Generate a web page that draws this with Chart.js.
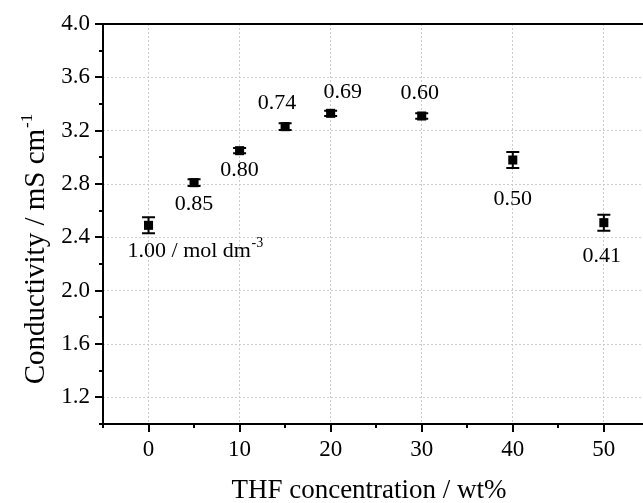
<!DOCTYPE html>
<html><head><meta charset="utf-8">
<script src="https://cdn.jsdelivr.net/npm/chart.js@4.4.0/dist/chart.umd.min.js"></script>
<style>html,body{margin:0;padding:0;background:#fff;overflow:hidden}#c{display:block;width:643px;height:503px}</style>
</head><body><canvas id="c" width="643" height="503"></canvas>
<script>
// ---- data ----
const thfConcentration = [0, 5, 10, 15, 20, 30, 40, 50];
const conductivity = [2.49, 2.81, 3.05, 3.23, 3.33, 3.31, 2.98, 2.51];
const conductivityError = [0.06, 0.025, 0.02, 0.025, 0.02, 0.02, 0.06, 0.06];
const saltConcentration = ['1.00', '0.85', '0.80', '0.74', '0.69', '0.60', '0.50', '0.41'];
const firstLabelUnit = ' / mol dm';
const firstLabelUnitSup = '-3';
const xTickLabels = [0, 10, 20, 30, 40, 50];
const yTickLabels = [1.2, 1.6, 2.0, 2.4, 2.8, 3.2, 3.6, 4.0];
const xTitle = 'THF concentration / wt%';
const yTitle = 'Conductivity / mS cm';
const yTitleSup = '-1';

// ---- label placement (pixels relative to the point) ----
const labelOffsets = [[-21, 26], [0, 22], [0, 20], [-8, -23], [12, -21], [-2, -23], [0, 39], [-2, 34]];

const FONT = '"Liberation Serif", "Times New Roman", serif';
const near = (v, arr) => arr.some(a => Math.abs(a - v) < 1e-6);

const decor = {
  id: 'decor',
  afterDatasetsDraw(chart) {
    const {ctx, scales: {x, y}} = chart;
    ctx.save();
    ctx.strokeStyle = '#000';
    ctx.lineWidth = 2;
    conductivity.forEach((v, i) => {
      const px = x.getPixelForValue(thfConcentration[i]);
      const t = y.getPixelForValue(v + conductivityError[i]);
      const b = y.getPixelForValue(v - conductivityError[i]);
      ctx.beginPath();
      ctx.moveTo(px, t); ctx.lineTo(px, b);
      ctx.moveTo(px - 6.5, t); ctx.lineTo(px + 6.5, t);
      ctx.moveTo(px - 6.5, b); ctx.lineTo(px + 6.5, b);
      ctx.stroke();
    });
    ctx.restore();
  },
  afterDraw(chart) {
    const {ctx, chartArea: a, scales: {x, y}} = chart;
    ctx.save();
    // frame
    ctx.strokeStyle = '#000';
    ctx.lineWidth = 2;
    ctx.beginPath();
    ctx.moveTo(a.left - 1, a.top); ctx.lineTo(a.right, a.top);
    ctx.moveTo(a.left, a.top); ctx.lineTo(a.left, a.bottom + 1);
    ctx.moveTo(a.left - 1, a.bottom); ctx.lineTo(a.right, a.bottom);
    ctx.stroke();
    // ticks
    ctx.beginPath();
    y.ticks.forEach(t => {
      const py = Math.round(y.getPixelForValue(t.value));
      const len = near(t.value, yTickLabels) ? 8 : 4;
      ctx.moveTo(a.left, py); ctx.lineTo(a.left - len, py);
    });
    x.ticks.forEach(t => {
      const px = Math.round(x.getPixelForValue(t.value));
      const len = near(t.value, xTickLabels) ? 8 : 4;
      ctx.moveTo(px, a.bottom); ctx.lineTo(px, a.bottom + len);
    });
    ctx.stroke();

    // point annotations
    ctx.fillStyle = '#000';
    ctx.font = '22px ' + FONT;
    saltConcentration.forEach((s, i) => {
      const px = x.getPixelForValue(thfConcentration[i]) + labelOffsets[i][0];
      const py = y.getPixelForValue(conductivity[i]) + labelOffsets[i][1];
      if (i === 0) {
        ctx.textAlign = 'left';
        ctx.textBaseline = 'middle';
        const main = s + firstLabelUnit;
        ctx.fillText(main, px, py);
        const w = ctx.measureText(main).width;
        ctx.font = '14px ' + FONT;
        ctx.fillText(firstLabelUnitSup, px + w + 0.5, py - 8);
        ctx.font = '22px ' + FONT;
      } else {
        ctx.textAlign = 'center';
        ctx.textBaseline = 'middle';
        ctx.fillText(s, px, py);
      }
    });

    // x title
    ctx.font = '27px ' + FONT;
    ctx.textAlign = 'center';
    ctx.textBaseline = 'alphabetic';
    ctx.fillText(xTitle, 369, 498);

    // y title (rotated)
    ctx.save();
    ctx.translate(44, 249);
    ctx.rotate(-Math.PI / 2);
    ctx.font = '29px ' + FONT;
    const wMain = ctx.measureText(yTitle).width;
    ctx.font = '17px ' + FONT;
    const wSup = ctx.measureText(yTitleSup).width;
    const total = wMain + wSup + 1;
    ctx.textAlign = 'left';
    ctx.font = '29px ' + FONT;
    ctx.fillText(yTitle, -total / 2, 0);
    ctx.font = '17px ' + FONT;
    ctx.fillText(yTitleSup, -total / 2 + wMain + 1, -12);
    ctx.restore();

    ctx.restore();
  }
};

new Chart(document.getElementById('c'), {
  type: 'scatter',
  data: {
    datasets: [{
      data: thfConcentration.map((v, i) => ({x: v, y: conductivity[i]})),
      pointStyle: 'rect',
      pointRadius: 6.4,
      pointHoverRadius: 6.4,
      backgroundColor: '#000',
      borderWidth: 0,
      showLine: false
    }]
  },
  options: {
    responsive: false,
    maintainAspectRatio: false,
    animation: false,
    devicePixelRatio: 1,
    layout: {autoPadding: false, padding: {top: 24, right: 0, left: 0, bottom: 0}},
    plugins: {legend: {display: false}, tooltip: {enabled: false}},
    scales: {
      x: {
        type: 'linear',
        min: -5, max: 54.3,
        afterFit: s => { s.height = 79; s.paddingLeft = 0; s.paddingRight = 0; },
        ticks: {
          stepSize: 5, autoSkip: false, maxRotation: 0, padding: 12, includeBounds: false,
          color: '#000',
          font: {family: FONT, size: 23},
          callback: v => near(v, xTickLabels) ? String(v) : ''
        },
        grid: {
          drawTicks: false,
          lineWidth: 1,
          color: c => (c.tick && near(c.tick.value, xTickLabels)) ? '#cccccc' : 'rgba(0,0,0,0)'
        },
        border: {display: false, dash: [2, 2]}
      },
      y: {
        type: 'linear',
        min: 1.0, max: 4.0,
        afterFit: s => { s.width = 103; s.paddingTop = 0; s.paddingBottom = 0; },
        ticks: {
          stepSize: 0.2, autoSkip: false, padding: 13,
          color: '#000',
          font: {family: FONT, size: 23},
          callback: v => near(v, yTickLabels) ? v.toFixed(1) : ''
        },
        grid: {
          drawTicks: false,
          lineWidth: 1,
          color: c => (c.tick && near(c.tick.value, yTickLabels) && c.tick.value < 3.99) ? '#cccccc' : 'rgba(0,0,0,0)'
        },
        border: {display: false, dash: [2, 2]}
      }
    }
  },
  plugins: [decor]
});
</script>
</body></html>
